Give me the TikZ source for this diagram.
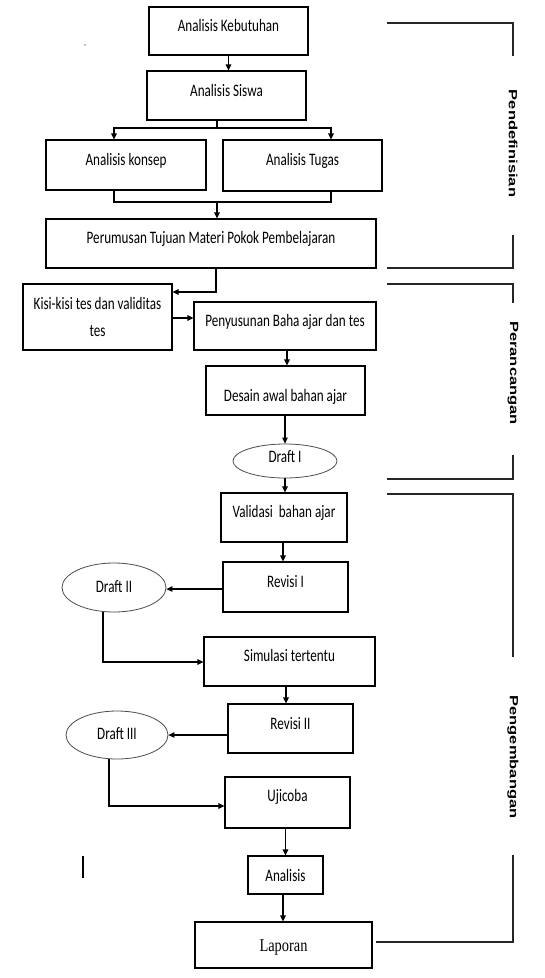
\documentclass[tikz,border=0pt]{standalone}
\usepackage{fontspec}
\setmainfont{Carlito}[FakeStretch=0.75]
\newfontfamily\lapfont{Liberation Serif}[FakeStretch=0.8]
\newfontfamily\sidefont{Liberation Sans Bold}
\usetikzlibrary{arrows.meta,shapes.geometric,calc}
\newcommand\up[2]{\raisebox{#1pt}{#2}}
\newcommand\sq[1]{\scalebox{1}[0.72]{#1}}
\begin{document}
\begin{tikzpicture}[x=1pt,y=-1pt,
  font=\fontsize{17.5}{21}\selectfont,
  line width=1.1pt,
  box/.style={draw, rectangle, inner sep=0pt, text height=12pt, text depth=4pt},
  boxml/.style={draw, rectangle, inner sep=0pt, align=center},
  ell/.style={draw=black!70, ellipse, inner sep=0pt, line width=0.8pt, text height=12pt, text depth=4pt},
  arr/.style={-{Triangle[length=6pt,width=5.5pt]}},
  brk/.style={draw=black!85, line width=1.1pt},
  side/.style={rotate=-90, inner sep=0pt, font=\sidefont\fontsize{16.5}{18}\selectfont}]
\useasboundingbox (0,0) rectangle (544,978);
\fill[white] (0,0) rectangle (544,978);

% nodes
\node[box, minimum width=159pt, minimum height=48pt] (ak) at (228.5,31) {\up{3.1}{Analisis Kebutuhan}};
\node[box, minimum width=159pt, minimum height=49pt] (as) at (226.5,95.5) {\up{2.6}{Analisis Siswa}};
\node[box, minimum width=160pt, minimum height=50pt] (ko) at (126,165) {\up{3.1}{Analisis konsep}};
\node[box, minimum width=159pt, minimum height=51pt] (tu) at (302.5,165.5) {\up{3.6}{Analisis Tugas}};
\node[box, minimum width=330pt, minimum height=49pt] (pe) at (211,243.5) {\up{3.6}{Perumusan Tujuan Materi Pokok Pembelajaran}};
\node[boxml, minimum width=149pt, minimum height=66pt, font=\fontsize{17.5}{27}\selectfont] (ki) at (97.5,317) {Kisi-kisi tes dan validitas\\tes};
\node[box, minimum width=182pt, minimum height=48pt] (py) at (285,326) {\up{3.1}{Penyusunan Baha ajar dan tes}};
\node[box, minimum width=159pt, minimum height=49pt] (de) at (285.5,390.5) {\up{-7.4}{Desain awal bahan ajar}};
\node[ell, minimum width=104pt, minimum height=34pt] (d1) at (285,461) {\up{2.1}{Draft I}};
\node[box, minimum width=126pt, minimum height=49pt] (va) at (284,517.5) {\up{3.6}{Validasi\ \ bahan ajar}};
\node[box, minimum width=125pt, minimum height=50pt] (r1) at (285.5,587) {\up{3.1}{Revisi I}};
\node[ell, minimum width=104pt, minimum height=49pt] (d2) at (114,587.5) {\up{-0.9}{Draft II}};
\node[box, minimum width=171pt, minimum height=49pt] (si) at (289.5,661.5) {\up{3.6}{Simulasi tertentu}};
\node[box, minimum width=125pt, minimum height=49pt] (r2) at (290.5,728.5) {\up{2.6}{Revisi II}};
\node[ell, minimum width=102pt, minimum height=48pt] (d3) at (117,735) {\up{-0.9}{Draft III}};
\node[box, minimum width=125pt, minimum height=51pt] (uj) at (287.5,802.5) {\up{4.6}{Ujicoba}};
\node[box, minimum width=75pt, minimum height=38pt] (an) at (285.5,875) {\up{-2.9}{Analisis}};
\node[box, minimum width=177pt, minimum height=46pt, font=\lapfont\fontsize{18}{21}\selectfont] (la) at (283.5,945) {\up{-2}{Laporan}};

% connectors
\draw[arr] (ak.south) -- (ak.south |- as.north);
\coordinate (s1) at (217,128);
\draw (s1 |- as.south) -- (s1);
\draw[arr] (s1) -| ([xshift=-12pt]ko.north);
\draw[arr] (s1) -| ([xshift=28.5pt]tu.north);
\coordinate (m1) at (217,202);
\draw ([xshift=-12pt]ko.south) |- (m1) -| ([xshift=28.5pt]tu.south);
\draw[arr] (m1) -- (m1 |- pe.north);
\draw[arr] ([xshift=5pt]pe.south) |- ([yshift=25pt]ki.east);
\draw[arr] ([yshift=-1pt]ki.east) -- ([yshift=-1pt]ki.east -| py.west);
\draw[arr] ([xshift=2pt]py.south) -- ([xshift=2pt]py.south |- de.north);
\draw[arr] (d1.north |- de.south) -- (d1.north);
\draw[arr] (d1.south) -- (d1.south |- va.north);
\draw[arr] ([xshift=-1pt]va.south) -- ([xshift=-1pt]va.south |- r1.north);
\draw[arr] ([yshift=-2pt]r1.west) -- ([yshift=-2pt]r1.west -| d2.east);
\draw[arr] ([xshift=-11pt]d2.south) |- ([yshift=-0.5pt]si.west);
\draw[arr] ([xshift=-3.5pt]si.south) -- ([xshift=-3.5pt]si.south |- r2.north);
\draw[arr] (r2.west |- d3.east) -- (d3.east);
\draw[arr] ([xshift=-8pt]d3.south) |- ([yshift=-3.5pt]uj.west);
\draw[arr] (an.north |- uj.south) -- (an.north);
\draw[arr] ([xshift=-2.5pt]an.south) -- ([xshift=-2.5pt]an.south |- la.north);

% side brackets
\draw[brk] (387,23) -- (513,23) -- (513,56);
\draw[brk] (513,235) -- (513,268) -- (387,268);
\node[side] (l1) at (513,143.5) {\sq{Pendefinisian}};
\draw[brk] (387,284) -- (513,284) -- (513,303);
\draw[brk] (513,455) -- (513,479) -- (387,479);
\node[side] (l2) at (513,373) {\sq{Perancangan}};
\draw[brk] (387,494) -- (513,494) -- (513,657);
\draw[brk] (513,855) -- (513,942) -- ([xshift=3pt]la.east |- 0,942);
\node[side] (l3) at (513,757) {\sq{Pengembangan}};

% stray marks
\fill (85,45) circle (0.7pt);
\draw[line width=1.8pt] (83,856) -- (83,878);
\end{tikzpicture}
\end{document}
